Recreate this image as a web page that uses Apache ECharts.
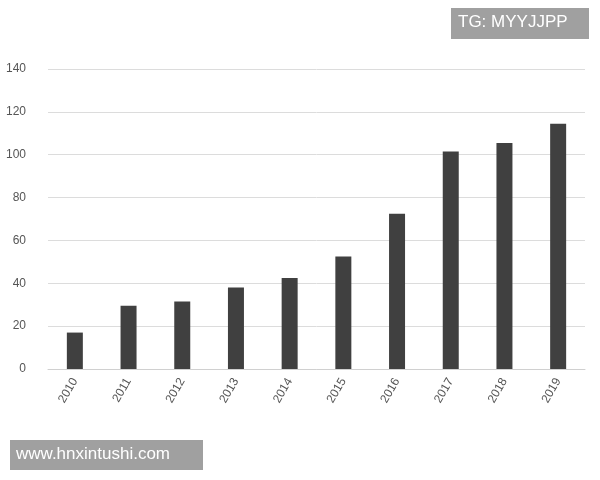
<!DOCTYPE html>
<html>
<head>
<meta charset="utf-8">
<script src="https://cdn.jsdelivr.net/npm/echarts@6/dist/echarts.min.js"></script>
<style>html,body{margin:0;padding:0;background:#fff}#main{width:600px;height:480px}</style>
</head>
<body>
<div id="main"></div>
<script>
var years = ['2010','2011','2012','2013','2014','2015','2016','2017','2018','2019'];
var values = [17, 29.5, 31.5, 38, 42.5, 52.5, 72.5, 101.5, 105.5, 114.5];

var myChart = echarts.init(document.getElementById('main'));

var option = {
	animation: false,
	grid: { left: 48, right: 15, top: 69, bottom: 111 },
	xAxis: {
		type: 'category',
		data: years,
		axisTick: { show: false },
		axisLine: { lineStyle: { color: '#d0d0d0' } },
		axisLabel: { rotate: 60, color: '#555', fontSize: 12, margin: 10 }
	},
	yAxis: {
		type: 'value',
		min: 0, max: 140, interval: 20,
		axisLine: { show: false },
		axisTick: { show: false },
		axisLabel: { color: '#555', fontSize: 12, margin: 22 },
		splitLine: { lineStyle: { color: '#dcdcdc' } }
	},
	series: [{
		type: 'bar',
		data: values,
		barWidth: 16,
		itemStyle: { color: '#404040' }
	}],
	graphic: [
		{ type: 'rect', left: 451, top: 8, shape: { width: 138, height: 31 }, style: { fill: '#a0a0a0' } },
		{ type: 'text', left: 458, top: 14, style: { text: 'TG: MYYJJPP', fill: '#fff', font: '17px sans-serif' } },
		{ type: 'rect', left: 10, top: 440, shape: { width: 193, height: 30 }, style: { fill: '#a0a0a0' } },
		{ type: 'text', left: 16, top: 446, style: { text: 'www.hnxintushi.com', fill: '#fff', font: '17px sans-serif' } }
	]
};

myChart.setOption(option);
</script>
</body>
</html>
